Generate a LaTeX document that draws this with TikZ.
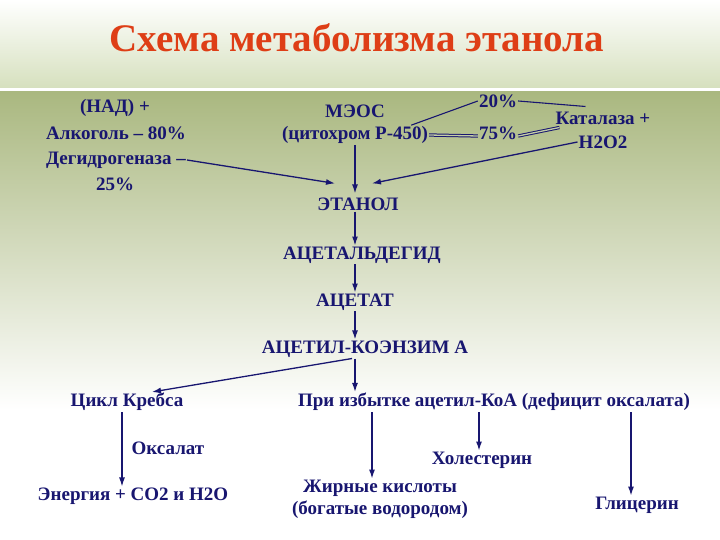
\documentclass[tikz,border=0pt]{standalone}
\usepackage{fontspec}
\setmainfont{Liberation Serif}
\usetikzlibrary{arrows.meta,calc}

\definecolor{inkblue}{RGB}{24,22,112}
\definecolor{titlered}{RGB}{222,62,22}
\definecolor{olive}{RGB}{170,184,128}
\definecolor{paleband}{RGB}{214,224,190}

\tikzset{
  lbl/.style={inner sep=1pt, text=inkblue, font=\fontsize{19}{21}\selectfont\bfseries},
  arr/.style={draw=inkblue, line width=1.3pt, -{Latex[length=9pt,width=6pt]}},
  lnk/.style={draw=inkblue, line width=1.1pt},
  dbl/.style={draw=inkblue, line width=1pt, double=olive!70!white, double distance=1.3pt}
}

\begin{document}
\begin{tikzpicture}[x=1pt,y=1pt,yscale=-1]
\useasboundingbox (0,0) rectangle (720,540);

% background
\fill[white] (0,0) rectangle (720,540);
\shade[top color=white, bottom color=paleband] (0,0) rectangle (720,88);
\shade[top color=olive, bottom color=white] (0,92) rectangle (720,410);

% title
\node[inner sep=1pt, text=titlered, font=\fontsize{39}{42}\selectfont\bfseries] (title) at (357,38) {Схема метаболизма этанола};

% sources
\node[lbl] (nadA) at (115,108) {(НАД) +};
\node[lbl] (nadB) at (116,133) {Алкоголь – 80\%};
\node[lbl] (nadC) at (116,160) {Дегидрогеназа –};
\node[lbl] (nadD) at (115,184) {25\%};

\node[lbl] (meosA) at (355,111) {МЭОС};
\node[lbl] (meosB) at (355,135) {(цитохром Р-450)};

\node[lbl] (pA) at (498,101) {20\%};
\node[lbl] (pB) at (498,133) {75\%};

\node[lbl] (katA) at (603,118) {Каталаза +};
\node[lbl] (katB) at (603,142) {Н2О2};

% main chain
\node[lbl] (eth) at (358,204) {ЭТАНОЛ};
\node[lbl] (ald) at (362,255) {АЦЕТАЛЬДЕГИД};
\node[lbl] (ace) at (355,302) {АЦЕТАТ};
\node[lbl] (acoa) at (365,349) {АЦЕТИЛ-КОЭНЗИМ А};

% products
\node[lbl] (krebs) at (127,402) {Цикл Кребса};
\node[lbl] (excess) at (494,402) {При избытке ацетил-КоА (дефицит оксалата)};
\node[lbl] (oxal) at (168,448) {Оксалат};
\node[lbl] (energy) at (133,496) {Энергия + СО2 и Н2О};
\node[lbl] (fatA) at (380,488) {Жирные кислоты};
\node[lbl] (fatB) at (380,510) {(богатые водородом)};
\node[lbl] (chol) at (482,460) {Холестерин};
\node[lbl] (glyc) at (637,505) {Глицерин};

% links between enzymes
\draw[lnk] ([xshift=-18pt]meosB.north east) -- (pA.west);
\draw[lnk] (pA.east) -- ([xshift=31pt,yshift=-4pt]katA.north west);
\draw[dbl] (meosB.east) -- ([yshift=3pt]pB.west);
\draw[dbl] ([yshift=3pt]pB.east) -- ([xshift=5pt,yshift=2pt]katA.south west);

% arrows to ethanol
\draw[arr] (nadC.east) -- ($(eth.north)+(-23,-13)$);
\draw[arr] (meosB.south -| ace) -- ($(eth.north -| ace)+(0,-3)$);
\draw[arr] (katB.west) -- ($(eth.north)+(14,-13)$);

% chain
\draw[arr] (eth.south -| ace) -- (ald.north -| ace);
\draw[arr] (ald.south -| ace) -- (ace.north);
\draw[arr] (ace.south) -- (acoa.north -| ace);
\draw[arr] ($(acoa.south -| ace)+(-3,0)$) -- ([xshift=25pt]krebs.north);
\draw[arr] (acoa.south -| ace) -- (excess.north -| ace);

% branches
\draw[arr] ([xshift=-5pt]krebs.south) -- ([xshift=-5pt]krebs.south |- energy.north);
\draw[arr] (excess.south -| fatA.center) ++(-8,0) coordinate (fx) -- (fx |- fatA.north);
\draw[arr] (excess.south -| chol.center) ++(-3,0) coordinate (cx) -- (cx |- chol.north);
\draw[arr] (excess.south -| glyc.center) ++(-6,0) coordinate (gx) -- (gx |- glyc.north);

\end{tikzpicture}
\end{document}
